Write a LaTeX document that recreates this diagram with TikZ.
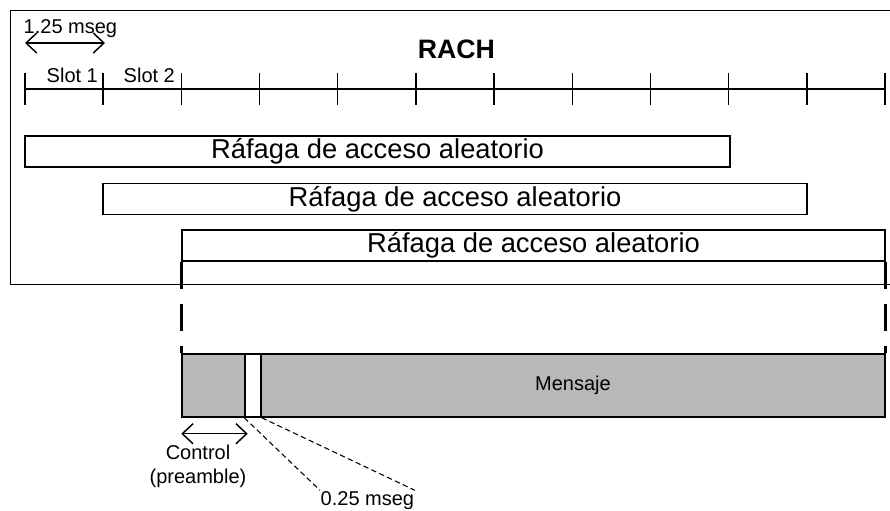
\documentclass[tikz,border=0pt]{standalone}
\usepackage{fontspec}
\setmainfont{Liberation Sans}
\usetikzlibrary{arrows.meta}
\definecolor{msgfill}{gray}{0.72}
\begin{document}
\begin{tikzpicture}[x=0.75pt,y=-0.75pt,
  line width=1.1pt,
  big/.style={font=\fontsize{20.5}{24}\selectfont},
  small/.style={font=\fontsize{15}{18}\selectfont},
  box/.style={draw, inner sep=0pt, minimum height=31*0.75pt},
  part/.style={draw, inner sep=0pt, minimum height=63*0.75pt},
  dim/.style={{Straight Barb[length=8pt,width=15pt]}-{Straight Barb[length=8pt,width=15pt]}},
  bigdash/.style={line width=2.25pt, dash pattern=on 20.25pt off 11.25pt},
  thindash/.style={line width=0.8pt, dash pattern=on 4pt off 2.5pt}]
\useasboundingbox (0,0) rectangle (890,511);
% frame
\node[draw, inner sep=0pt, anchor=north west, minimum width=890*0.75pt, minimum height=274*0.75pt] (frame) at (10,10) {};
% title
\node[font=\fontsize{20}{24}\selectfont\bfseries, inner sep=0pt, anchor=base] (rach) at (456.5,58) {RACH};
% time axis
\foreach \i in {0,...,11} {
  \coordinate (t\i) at ({25+\i*78.18},89);
  \draw (t\i) ++(0,-16) -- ++(0,32);
}
\draw (t0) -- (t11);
\node[small, inner sep=0pt, anchor=base west] (s1) at (46,82) {Slot 1};
\node[small, inner sep=0pt, anchor=base west] (s2) at (123,82) {Slot 2};
\coordinate (a1) at (25,43);
\coordinate (a2) at (105,43);
\draw[dim] (a1) -- (a2);
\node[small, inner sep=0pt, anchor=base west] (d125) at (23,33) {1.25 mseg};
% bursts
\node[box, big, minimum width=705*0.75pt] (b1) at (377.5,151.5) {Ráfaga de acceso aleatorio};
\node[box, big, minimum width=704*0.75pt] (b2) at (455,199) {Ráfaga de acceso aleatorio};
\node[box, big, minimum width=703*0.75pt] (b3) at (533.5,245.5) {Ráfaga de acceso aleatorio};
% message
\node[part, fill=msgfill, minimum width=63*0.75pt] (ctrl) at (213.5,385.5) {};
\node[part, fill=white, minimum width=16*0.75pt] (wbar) at (253,385.5) {};
\node[part, fill=msgfill, small, minimum width=624*0.75pt] (msg) at (573,385.5) {Mensaje};
% expansion lines
\draw[bigdash] (b3.south west) -- (ctrl.north west);
\draw[bigdash] (b3.south east) -- (msg.north east);
% control
\draw[dim] ([yshift=-12pt]ctrl.south west) -- ([yshift=-12pt,xshift=1.5pt]ctrl.south east);
\node[small, inner sep=0pt, anchor=north, align=center] (ctl) at (198,444) {Control\\(preamble)};
% 0.25 mseg
\node[small, inner sep=0pt, anchor=base west] (t025) at (320,505) {0.25 mseg};
\draw[thindash] (wbar.south west) -- (t025.north west);
\draw[thindash] (wbar.south east) -- (t025.north east);
\end{tikzpicture}
\end{document}
